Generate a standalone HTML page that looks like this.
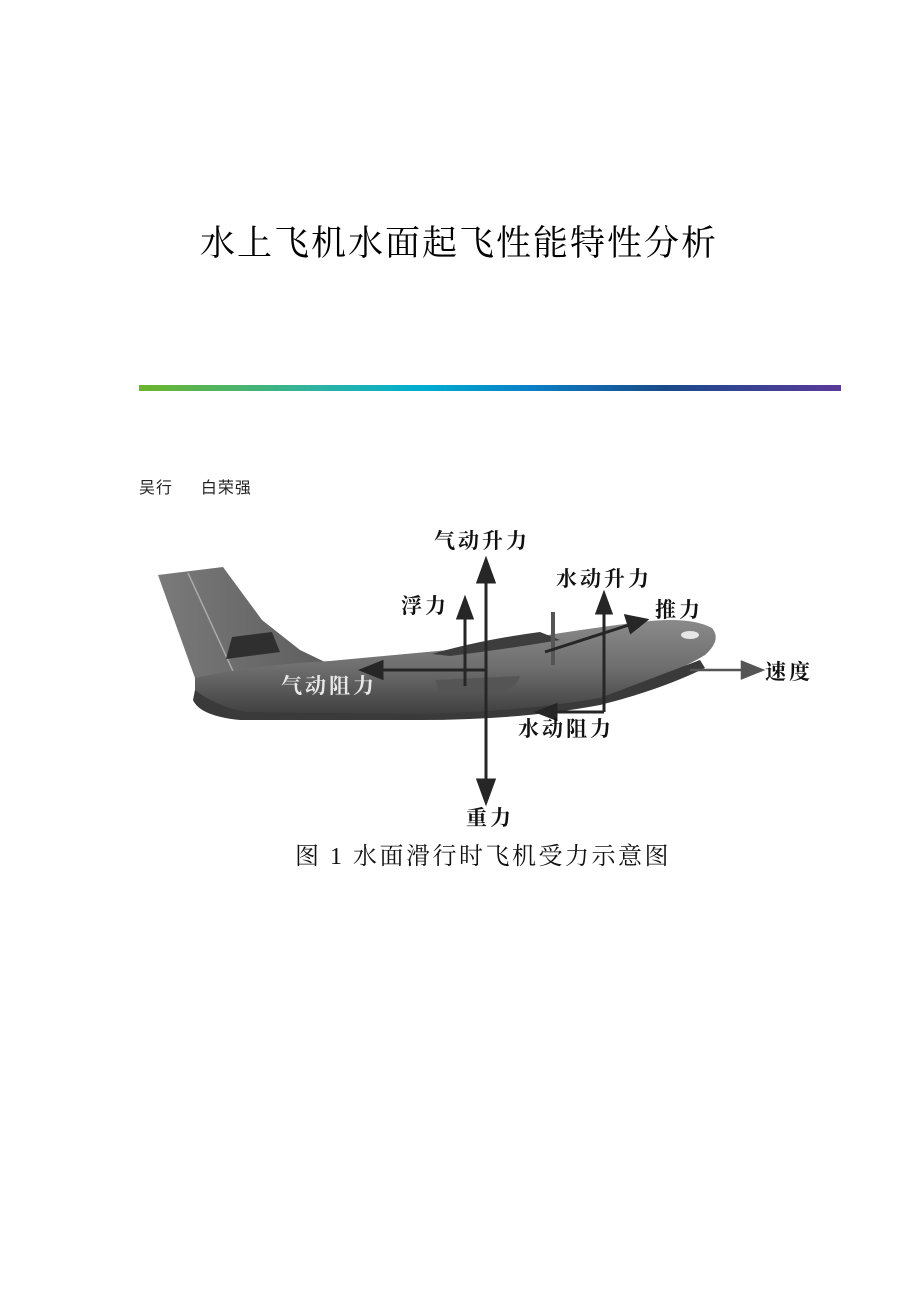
<!DOCTYPE html>
<html><head><meta charset="utf-8"><style>
html,body{margin:0;padding:0;background:#fff}
body{width:920px;height:1302px;position:relative;overflow:hidden;font-family:"Liberation Serif","Noto Serif CJK SC",serif}
.t{position:absolute;white-space:nowrap}
</style></head><body>
<div class="t" style="left:200px;top:216px;font-size:35px;letter-spacing:2px;font-family:'Liberation Serif','Noto Serif CJK SC',serif;color:#000">水上飞机水面起飞性能特性分析</div>
<div style="position:absolute;left:139px;top:385px;width:702px;height:6px;background:linear-gradient(90deg,#6cb42a 0%,#2fb3a0 25%,#00aed0 40%,#0a82c8 55%,#1a4a8a 75%,#5a3a9a 100%)"></div>
<div class="t" style="left:139px;top:474px;font-size:16px;letter-spacing:1px;font-family:'Liberation Sans','Noto Sans CJK SC',sans-serif;color:#222">吴行　&nbsp;&nbsp;白荣强</div>
<svg style="position:absolute;left:0;top:0" width="920" height="1302">
<defs>
<linearGradient id="fg" x1="0" y1="0" x2="0" y2="1"><stop offset="0" stop-color="#8a8a8a"/><stop offset="0.5" stop-color="#6e6e6e"/><stop offset="1" stop-color="#3e3e3e"/></linearGradient>
<linearGradient id="tg" x1="0" y1="0" x2="1" y2="0"><stop offset="0" stop-color="#7a7a7a"/><stop offset="1" stop-color="#5e5e5e"/></linearGradient>
</defs>
<polygon points="158,575 223,567 262,620 300,650 325,662 215,682 195,678" fill="url(#tg)"/>
<line x1="188" y1="573" x2="238" y2="682" stroke="#aaa" stroke-width="1.5"/>
<polygon points="232,637 272,632 280,652 226,659" fill="#2f2f2f"/>
<path d="M195,678 Q260,664 330,661 L470,648 Q560,632 640,622 Q690,616 712,628 Q722,640 705,655 Q680,670 640,685 L600,700 Q520,714 420,716 L240,716 Q205,712 195,700 Z" fill="url(#fg)"/>
<path d="M195,690 Q215,706 245,712 L420,714 Q520,712 600,698 L700,660 L705,668 Q660,690 600,705 Q520,720 420,720 L240,720 Q200,716 193,700Z" fill="#3a3a3a"/>
<path d="M432,654 Q480,640 540,632 L560,640 Q500,650 450,656 Z" fill="#3d3d3d"/>
<path d="M435,680 L520,676 Q515,690 500,692 L440,692 Z" fill="#555"/>
<ellipse cx="690" cy="635" rx="9" ry="4" fill="#e6e6e6"/>
<line x1="553" y1="612" x2="553" y2="665" stroke="#555" stroke-width="4"/>
<g stroke="#262626" stroke-width="3" fill="#262626">
<line x1="486" y1="575" x2="486" y2="790"/>
<polygon points="486,560 478,582 494,582"/>
<polygon points="486,802 478,780 494,780"/>
<line x1="465" y1="612" x2="465" y2="686"/>
<polygon points="465,599 458,618 472,618"/>
<line x1="604" y1="608" x2="604" y2="712"/>
<polygon points="604,594 597,613 611,613"/>
<line x1="604" y1="712" x2="552" y2="712"/>
<polygon points="538,712 556,705 556,719"/>
<line x1="545" y1="652" x2="632" y2="624"/>
<polygon points="646,620 626,616 631,632"/>
<line x1="486" y1="670" x2="378" y2="670"/>
<polygon points="362,670 382,662 382,678"/>
</g>
<g stroke="#555" stroke-width="2.5" fill="#555">
<line x1="690" y1="670" x2="745" y2="670"/>
<polygon points="762,670 742,662 742,678"/>
</g>
<g font-family="'Liberation Serif','Noto Serif CJK SC',serif" font-size="21" letter-spacing="3" font-weight="bold" fill="#111">
<text x="434" y="548">气动升力</text>
<text x="401" y="613">浮力</text>
<text x="556" y="586">水动升力</text>
<text x="655" y="617">推力</text>
<text x="765" y="679">速度</text>
<text x="518" y="736">水动阻力</text>
<text x="466" y="825">重力</text>
<text x="281" y="693" fill="#e8e8e8">气动阻力</text>
</g>
<text x="295" y="864" font-family="'Liberation Serif','Noto Serif CJK SC',serif" font-size="24" letter-spacing="2.5" fill="#111">图 1  水面滑行时飞机受力示意图</text>
</svg>
</body></html>
